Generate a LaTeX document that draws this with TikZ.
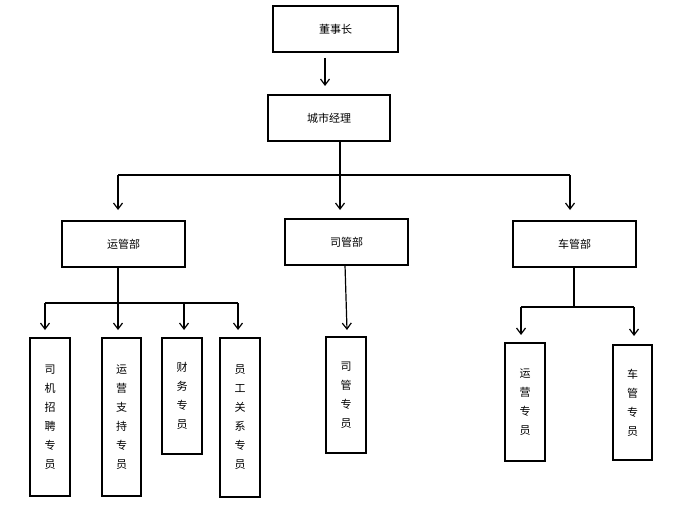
\documentclass[tikz,border=0pt]{standalone}
\usepackage{fontspec}
\newfontfamily\cjk{Noto Sans CJK SC}
\usetikzlibrary{arrows.meta}
\begin{document}
\begin{tikzpicture}[x=1pt,y=-1pt,
  box/.style={draw,line width=1.2pt,inner sep=0pt,font=\cjk\fontsize{11}{13}\selectfont},
  vbox/.style={box,align=center,font=\cjk\fontsize{11}{19}\selectfont},
  conn/.style={line width=1.2pt},
  arr/.style={conn,-{Straight Barb[length=6pt,width=9pt,line width=1.2pt]}}]
\useasboundingbox (0,0) rectangle (685,508);
\node[box,minimum width=125pt,minimum height=46pt] (ceo) at (335.5,29) {董事长};
\node[box,minimum width=122pt,minimum height=46pt] (city) at (329,118) {城市经理};
\node[box,minimum width=123pt,minimum height=46pt] (yg) at (123.5,244) {运管部};
\node[box,minimum width=123pt,minimum height=46pt] (sg) at (346.5,242) {司管部};
\node[box,minimum width=123pt,minimum height=46pt] (cg) at (574.5,244) {车管部};
\node[vbox,minimum width=40pt,minimum height=158pt] (a1) at (50,417) {司\\机\\招\\聘\\专\\员};
\node[vbox,minimum width=39pt,minimum height=158pt] (a2) at (121.5,417) {运\\营\\支\\持\\专\\员};
\node[vbox,minimum width=40pt,minimum height=116pt] (a3) at (182,396) {财\\务\\专\\员};
\node[vbox,minimum width=40pt,minimum height=159pt] (a4) at (240,417.5) {员\\工\\关\\系\\专\\员};
\node[vbox,minimum width=40pt,minimum height=116pt] (b1) at (346,395) {司\\管\\专\\员};
\node[vbox,minimum width=40pt,minimum height=118pt] (c1) at (525,402) {运\\营\\专\\员};
\node[vbox,minimum width=39pt,minimum height=115pt] (c2) at (632.5,402.5) {车\\管\\专\\员};
\coordinate (h1) at (340,175);
\draw[arr] (325,58) -- (325,86);
\draw[conn] (340,141) -- (h1);
\draw[conn] (118,175) -- (570,175);
\draw[arr] (118,175) -- (118,210);
\draw[arr] (h1) -- (340,210);
\draw[arr] (570,175) -- (570,210);
\draw[conn] (118,267) -- (118,303);
\draw[conn] (45,303) -- (238,303);
\draw[arr] (45,303) -- (45,330);
\draw[arr] (118,303) -- (118,330);
\draw[arr] (184,303) -- (184,330);
\draw[arr] (238,303) -- (238,330);
\draw[arr] (345,265) -- (347,330);
\draw[conn] (574,267) -- (574,307);
\draw[conn] (521,307) -- (634,307);
\draw[arr] (521,307) -- (521,335);
\draw[arr] (634,307) -- (634,336);
\end{tikzpicture}
\end{document}
